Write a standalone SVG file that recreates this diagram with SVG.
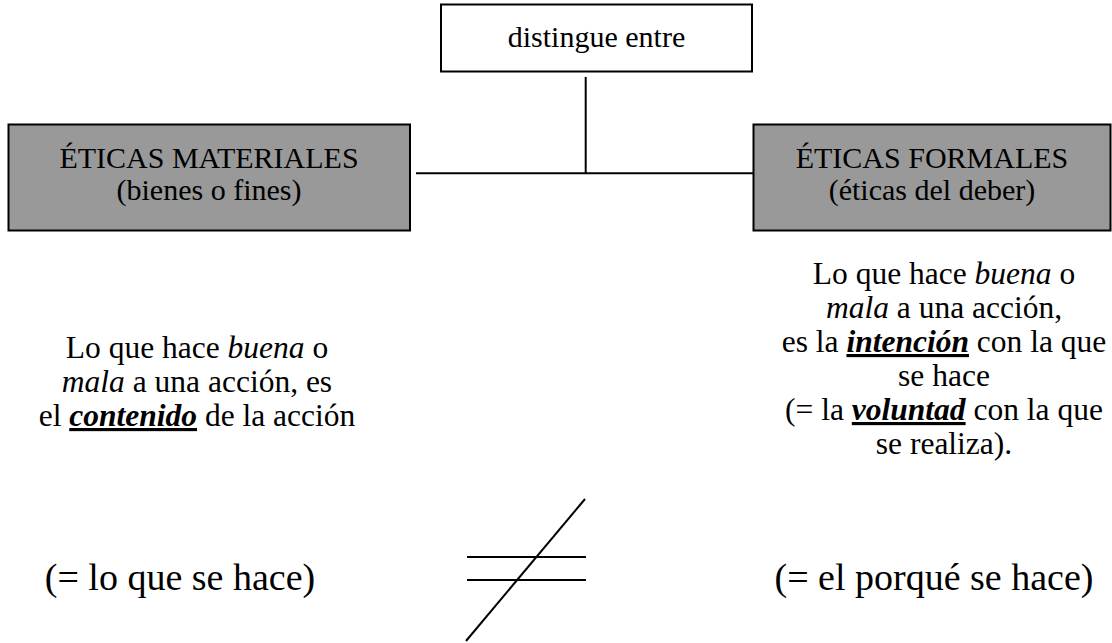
<svg xmlns="http://www.w3.org/2000/svg" width="1112" height="643" viewBox="0 0 1112 643">
<style>
text{font-family:Liberation Serif,Tinos,Times New Roman,Times,DejaVu Serif,Noto Serif,serif;fill:#000;text-anchor:middle}
.t{font-size:30px}
.m{font-size:31.5px}
.b{font-size:38px}
.box{fill:#fff;stroke:#000;stroke-width:2}
.gbox{fill:#999;stroke:#000;stroke-width:2}
.ln{stroke:#000;stroke-width:2;fill:none}
.i{font-style:italic}
.bi{font-style:italic;font-weight:bold;text-decoration:underline}
</style>
<rect width="1112" height="643" fill="#fff"/>
<g id="connectors">
<line class="ln" x1="585.7" y1="77" x2="585.7" y2="173.3"/>
<line class="ln" x1="416" y1="173.3" x2="753" y2="173.3"/>
</g>
<g id="node-distingue">
<rect class="box" x="441" y="4.5" width="311" height="67"/>
<text class="t" x="596.5" y="47">distingue entre</text>
</g>
<g id="node-materiales">
<rect class="gbox" x="8.5" y="124.5" width="401.5" height="106"/>
<text class="t" x="209" y="168">ÉTICAS MATERIALES</text>
<text class="t" x="209" y="200">(bienes o fines)</text>
</g>
<g id="node-formales">
<rect class="gbox" x="753.5" y="124.5" width="357" height="106"/>
<text class="t" x="932" y="168">ÉTICAS FORMALES</text>
<text class="t" x="932" y="200">(éticas del deber)</text>
</g>
<g id="text-materiales">
<text class="m" x="197" y="358">Lo que hace <tspan class="i">buena</tspan> o</text>
<text class="m" x="197" y="392"><tspan class="i">mala</tspan> a una acción, es</text>
<text class="m" x="197" y="426">el <tspan class="bi">contenido</tspan> de la acción</text>
</g>
<g id="text-formales">
<text class="m" x="944" y="284">Lo que hace <tspan class="i">buena</tspan> o</text>
<text class="m" x="944" y="318"><tspan class="i">mala</tspan> a una acción,</text>
<text class="m" x="944" y="352">es la <tspan class="bi">intención</tspan> con la que</text>
<text class="m" x="944" y="386">se hace</text>
<text class="m" x="944" y="420">(= la <tspan class="bi">voluntad</tspan> con la que</text>
<text class="m" x="944" y="454">se realiza).</text>
</g>
<g id="text-bottom">
<text class="b" x="180" y="590">(= lo que se hace)</text>
<text class="b" x="934" y="590">(= el porqué se hace)</text>
</g>
<g id="not-equal">
<line class="ln" x1="467" y1="557" x2="586" y2="557"/>
<line class="ln" x1="467" y1="580" x2="586" y2="580"/>
<line class="ln" stroke-width="1.5" x1="585" y1="499" x2="466" y2="641"/>
</g>
</svg>
